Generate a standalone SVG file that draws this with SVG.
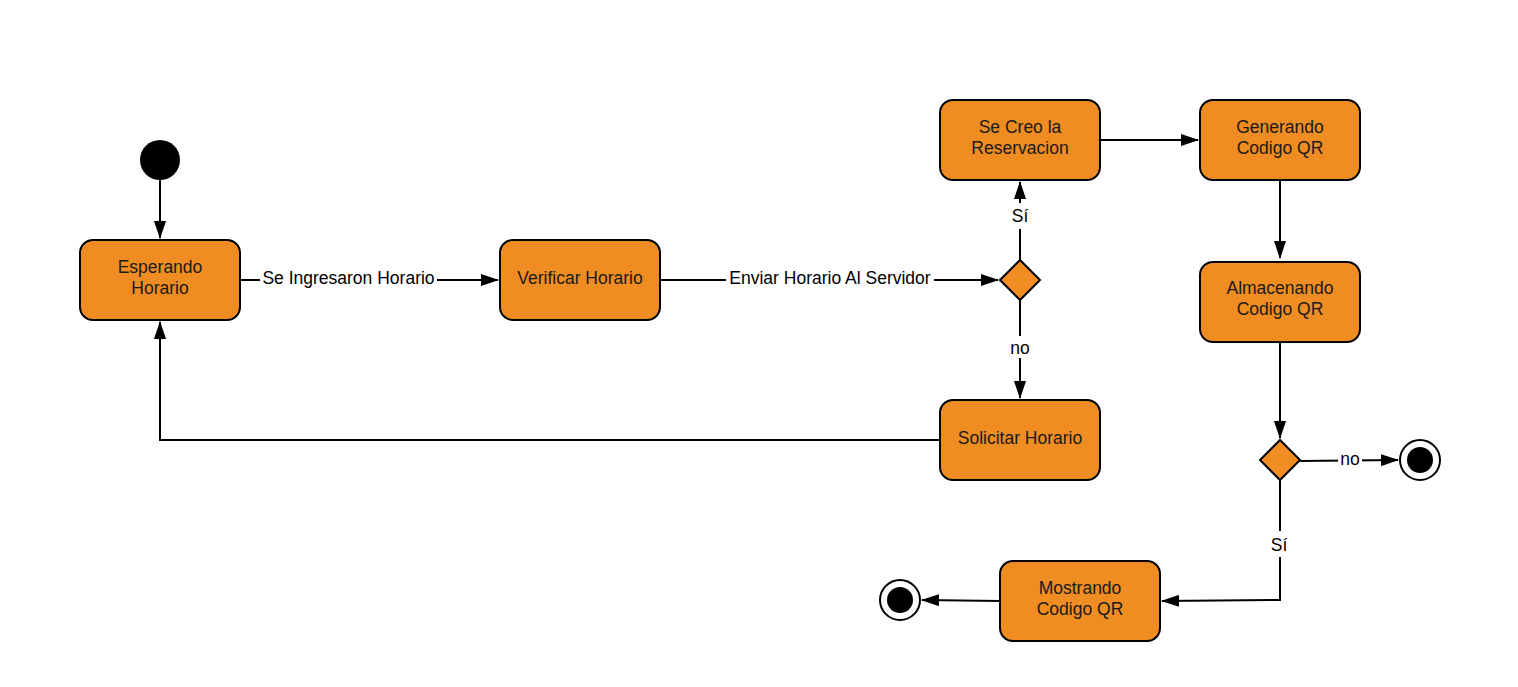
<svg xmlns="http://www.w3.org/2000/svg" width="1518" height="687" viewBox="0 0 1518 687">
<style>
.node{fill:#EF8C22;stroke:#000;stroke-width:2}
.t{font-family:"Liberation Sans",Arial,sans-serif;font-size:17.5px;fill:#1a1a1a;text-anchor:middle}
.l{font-family:"Liberation Sans",Arial,sans-serif;font-size:17.5px;fill:#000;text-anchor:middle}
.c{fill:none;stroke:#000;stroke-width:2}
.lb{fill:#fff}
</style>
<defs>
<marker id="a" markerWidth="18" markerHeight="12" refX="17" refY="6" orient="auto" markerUnits="userSpaceOnUse">
<path d="M0,0 L18,6 L0,12 Z" fill="#000"/>
</marker>
</defs>
<rect width="1518" height="687" fill="#fff"/>
<g id="connectors">
<path class="c" d="M160,180 L160,238" marker-end="url(#a)"/>
<path class="c" d="M240,280 L498,280" marker-end="url(#a)"/>
<path class="c" d="M660,280 L998,280" marker-end="url(#a)"/>
<path class="c" d="M1020,260 L1020,182" marker-end="url(#a)"/>
<path class="c" d="M1020,300 L1020,398" marker-end="url(#a)"/>
<path class="c" d="M1100,140 L1198,140" marker-end="url(#a)"/>
<path class="c" d="M1280,180 L1280,258" marker-end="url(#a)"/>
<path class="c" d="M1280,340 L1280,438" marker-end="url(#a)"/>
<path class="c" d="M1300,461 L1398,460" marker-end="url(#a)"/>
<path class="c" d="M1280,480 L1280,600 L1162,601" marker-end="url(#a)"/>
<path class="c" d="M1000,601 L922,600" marker-end="url(#a)"/>
<path class="c" d="M940,440 L160,440 L160,322" marker-end="url(#a)"/>
<rect class="lb" x="260" y="268" width="177" height="22"/>
<text class="l" x="348.5" y="284">Se Ingresaron Horario</text>
<rect class="lb" x="726" y="268" width="208" height="22"/>
<text class="l" x="830" y="284">Enviar Horario Al Servidor</text>
<rect class="lb" x="1008" y="203" width="24" height="26"/>
<text class="l" x="1020" y="222">Sí</text>
<rect class="lb" x="1006" y="336" width="28" height="22"/>
<text class="l" x="1020" y="354">no</text>
<rect class="lb" x="1338" y="448" width="24" height="22"/>
<text class="l" x="1350" y="465">no</text>
<rect class="lb" x="1268" y="531" width="24" height="26"/>
<text class="l" x="1279" y="551">Sí</text>
</g>
<g id="start"><circle cx="160" cy="160" r="20" fill="#000"/></g>
<g id="esperando"><rect class="node" x="80" y="240" width="160" height="80" rx="13"/><text class="t" x="160" y="273">Esperando</text><text class="t" x="160" y="294">Horario</text></g>
<g id="verificar"><rect class="node" x="500" y="240" width="160" height="80" rx="13"/><text class="t" x="580" y="284">Verificar Horario</text></g>
<g id="decision1"><path class="node" d="M1020,260 L1040,280 L1020,300 L1000,280 Z"/></g>
<g id="secreo"><rect class="node" x="940" y="100" width="160" height="80" rx="13"/><text class="t" x="1020" y="133">Se Creo la</text><text class="t" x="1020" y="154">Reservacion</text></g>
<g id="generando"><rect class="node" x="1200" y="100" width="160" height="80" rx="13"/><text class="t" x="1280" y="133">Generando</text><text class="t" x="1280" y="154">Codigo QR</text></g>
<g id="almacenando"><rect class="node" x="1200" y="262" width="160" height="80" rx="13"/><text class="t" x="1280" y="294">Almacenando</text><text class="t" x="1280" y="315">Codigo QR</text></g>
<g id="solicitar"><rect class="node" x="940" y="400" width="160" height="80" rx="13"/><text class="t" x="1020" y="444">Solicitar Horario</text></g>
<g id="decision2"><path class="node" d="M1280,440 L1300,460 L1280,480 L1260,460 Z"/></g>
<g id="end1"><circle cx="1420" cy="460" r="20" fill="#fff" stroke="#000" stroke-width="2"/><circle cx="1420" cy="460" r="13" fill="#000"/></g>
<g id="mostrando"><rect class="node" x="1000" y="561" width="160" height="80" rx="13"/><text class="t" x="1080" y="594">Mostrando</text><text class="t" x="1080" y="615">Codigo QR</text></g>
<g id="end2"><circle cx="900" cy="600" r="20" fill="#fff" stroke="#000" stroke-width="2"/><circle cx="900" cy="600" r="13" fill="#000"/></g>
</svg>
